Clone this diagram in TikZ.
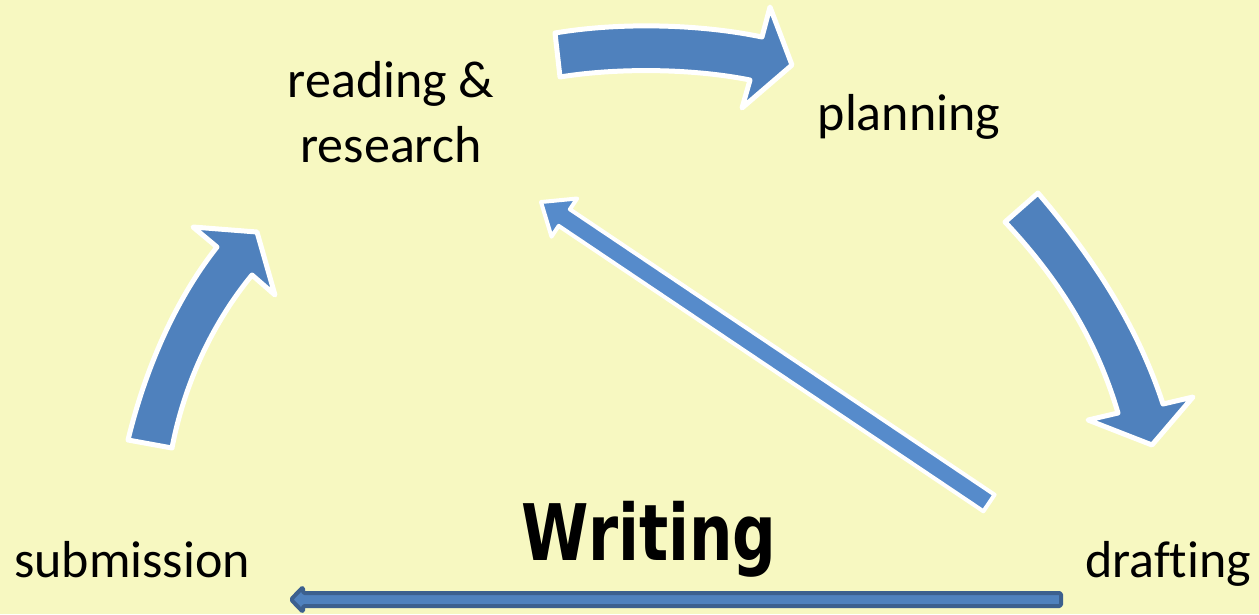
\documentclass[tikz,border=0pt]{standalone}
\usepackage{fontspec}
\setmainfont{Carlito}[Ligatures=NoCommon]
\newfontfamily\titlefont{DejaVu Sans Condensed}
\definecolor{bg}{RGB}{247,248,193}
\definecolor{arrowblue}{RGB}{79,129,189}
\definecolor{diagblue}{RGB}{86,139,203}
\definecolor{edgeblue}{RGB}{60,96,142}

\begin{document}
\begin{tikzpicture}[x=1pt,y=-1pt,
  lbl/.style={font=\fontsize{52}{65}\selectfont, inner sep=0pt, anchor=base},
  blockarrow/.style={fill=arrowblue, draw=white, line width=5pt, line join=round},
  thinarrow/.style={fill=diagblue, draw=white, line width=4pt, line join=round},
  linearrow/.style={fill=arrowblue, draw=edgeblue, line width=4pt, line join=round},
]
\fill[bg] (0,0) rectangle (1259,614);
\useasboundingbox (0,0) rectangle (1259,614);

% stage labels (the two-line label is placed by its last baseline)
\node[lbl, align=center] (read) at (391,162) {reading \&\\research};
\node[lbl] (plan) at (909,130) {planning};
\node[lbl] (draft) at (1168,577) {drafting};
\node[lbl] (subm) at (132,577) {submission};
\node[anchor=base, inner sep=0pt,
      font=\titlefont\bfseries\fontsize{78}{90}\selectfont] (title) at (649,560)
      {\scalebox{0.87}[1]{Writing}};

% curved block arrow: reading -> planning
\filldraw[blockarrow]
  (555,33) .. controls (620,22) and (700,24) .. (762,37)
  -- (770,7) -- (792,65) -- (742,108) -- (750,80)
  .. controls (690,68) and (615,68) .. (560,77) -- cycle;

% curved block arrow: planning -> drafting
\filldraw[blockarrow]
  (1038,193) .. controls (1085,248) and (1135,318) .. (1163,404)
  -- (1193,397) -- (1152,445) -- (1088,420) -- (1118,413)
  .. controls (1095,335) and (1055,275) .. (1005,222) -- cycle;

% curved block arrow: submission -> reading
\filldraw[blockarrow]
  (128,440) .. controls (145,370) and (175,300) .. (217,247)
  -- (193,227) -- (257,232) -- (275,295) -- (252,275)
  .. controls (215,320) and (185,380) .. (172,448) -- cycle;

% straight arrow: drafting back to reading
\filldraw[thinarrow]
  (994.6,494.7) -- (569.9,209.3) -- (577.1,198.5) -- (541,202)
  -- (551.5,236.7) -- (558.7,225.9) -- (983.4,511.3) -- cycle;

% line arrow: drafting -> submission
\filldraw[linearrow, rounded corners=1.5pt]
  (1061,593) -- (303,593) -- (303,587) -- (291,599.5)
  -- (303,612) -- (303,606) -- (1061,606) -- cycle;
\end{tikzpicture}
\end{document}
